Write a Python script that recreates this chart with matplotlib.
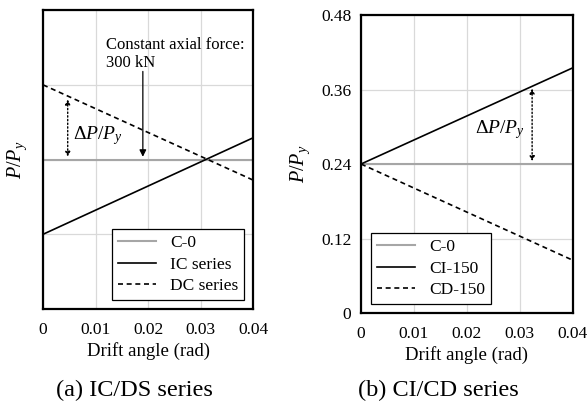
import matplotlib
matplotlib.use("Agg")
import matplotlib.pyplot as plt

plt.rcParams['font.family'] = ['Liberation Serif', 'DejaVu Serif']
plt.rcParams['mathtext.fontset'] = 'custom'
plt.rcParams['mathtext.rm'] = 'Liberation Serif'
plt.rcParams['mathtext.it'] = 'Liberation Serif:italic'

# data
drift = [0, 0.04]
c0 = [0.24, 0.24]
ic_series = [0.12, 0.275]
dc_series = [0.36, 0.207]
ci150 = [0.24, 0.395]
cd150 = [0.24, 0.085]

xticks = [0, 0.01, 0.02, 0.03, 0.04]
xticklabels = ["0", "0.01", "0.02", "0.03", "0.04"]
yticks = [0, 0.12, 0.24, 0.36, 0.48]
yticklabels = ["0", "0.12", "0.24", "0.36", "0.48"]

fig = plt.figure(figsize=(5.87, 4.05), dpi=100)
ax1 = fig.add_axes([0.0733, 0.237, 0.358, 0.738])
ax2 = fig.add_axes([0.615, 0.227, 0.361, 0.736])

GRAY = "#a6a6a6"
DASH = (0, (3, 2.2))


def style(ax, show_y, ylab_x):
    ax.set_xlim(0, 0.04)
    ax.set_ylim(0, 0.48)
    ax.set_xticks(xticks)
    ax.set_xticklabels(xticklabels)
    ax.set_yticks(yticks)
    if show_y:
        ax.set_yticklabels(yticklabels)
    else:
        ax.set_yticklabels([])
    ax.tick_params(axis="x", length=0, labelsize=12.5, pad=9)
    ax.tick_params(axis="y", length=0, labelsize=12.5, pad=7)
    ax.grid(True, color="#d9d9d9", linewidth=0.9)
    ax.set_axisbelow(True)
    for s in ax.spines.values():
        s.set_linewidth(1.6)
    ax.set_xlabel("Drift angle (rad)", fontsize=13.5, labelpad=3)
    ax.set_ylabel(r"$P/P_y$", fontsize=14.5, va="center")
    ax.yaxis.set_label_coords(ylab_x, 0.5)


# (a)
ax1.plot(drift, c0, color=GRAY, lw=1.5, label="C-0")
ax1.plot(drift, ic_series, color="black", lw=1.2, label="IC series")
ax1.plot(drift, dc_series, color="black", lw=1.2, ls=DASH, label="DC series")
style(ax1, False, -0.125)
ax1.annotate("", xy=(0.019, 0.24), xytext=(0.019, 0.386),
             arrowprops=dict(arrowstyle="-|>", color="black", lw=0.9,
                             mutation_scale=10))
ax1.text(0.012, 0.41, "Constant axial force:\n300 kN", fontsize=12,
         va="center", ha="left", linespacing=1.2)
ax1.annotate("", xy=(0.0047, 0.24), xytext=(0.0047, 0.341),
             arrowprops=dict(arrowstyle="<|-|>", color="black", lw=1.0,
                             ls=":", mutation_scale=7))
ax1.text(0.0058, 0.278, r"$\mathit{\Delta P/P_y}$", fontsize=14, va="center")
leg1 = ax1.legend(loc="lower right", bbox_to_anchor=(0.957, 0.03), fontsize=12.5,
                  fancybox=False, edgecolor="black", framealpha=1,
                  handlelength=2.2, borderpad=0.35, labelspacing=0.3,
                  borderaxespad=0)
leg1.get_frame().set_linewidth(0.9)

# (b)
ax2.plot(drift, c0, color=GRAY, lw=1.5, label="C-0")
ax2.plot(drift, ci150, color="black", lw=1.2, label="CI-150")
ax2.plot(drift, cd150, color="black", lw=1.2, ls=DASH, label="CD-150")
style(ax2, True, -0.288)
ax2.annotate("", xy=(0.0323, 0.24), xytext=(0.0323, 0.366),
             arrowprops=dict(arrowstyle="<|-|>", color="black", lw=1.0,
                             ls=":", mutation_scale=7))
ax2.text(0.0215, 0.296, r"$\mathit{\Delta P/P_y}$", fontsize=14, va="center")
leg2 = ax2.legend(loc="lower left", bbox_to_anchor=(0.047, 0.03), fontsize=12.5,
                  fancybox=False, edgecolor="black", framealpha=1,
                  handlelength=2.2, borderpad=0.35, labelspacing=0.3,
                  borderaxespad=0)
leg2.get_frame().set_linewidth(0.9)

fig.text(134 / 587, 1 - 390 / 405, "(a) IC/DS series", fontsize=17.5,
         ha="center", va="center")
fig.text(438 / 587, 1 - 390 / 405, "(b) CI/CD series", fontsize=17.5,
         ha="center", va="center")

fig.savefig("out.png", dpi=100)
